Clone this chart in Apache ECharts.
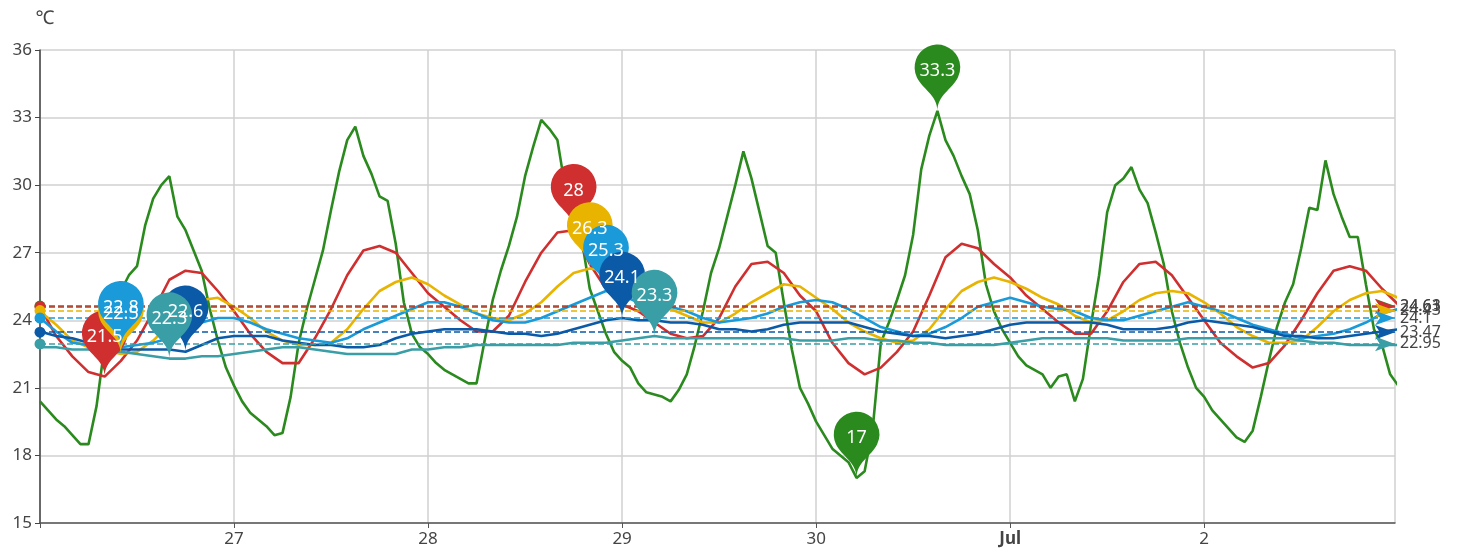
<!DOCTYPE html>
<html><head><meta charset="utf-8">
<script src="https://cdn.jsdelivr.net/npm/echarts@6/dist/echarts.min.js"></script>
<style>html,body{margin:0;padding:0;background:#fff}#c{width:1467px;height:555px}</style>
</head><body><div id="c"></div>
<script>
// time base: Jun 26, hourly / 2-hourly samples
const startTime = new Date(2024, 5, 26, 0, 0, 0).getTime();
const HOUR = 3600000;
const endHours = 167.6;
const monthNames = ['Jan', 'Feb', 'Mar', 'Apr', 'May', 'Jun', 'Jul', 'Aug', 'Sep', 'Oct', 'Nov', 'Dec'];

const seriesNames = ['Outdoor', 'Room A', 'Room B', 'Room C', 'Room D', 'Room E'];
const seriesColors = ['#2b8a1e', '#cf2f2f', '#e8b400', '#1a9ad8', '#0b5aa8', '#3a9ea7'];

// green series, one value per hour
const greenValues = [
  20.4, 20.0, 19.6, 19.3, 18.9, 18.5, 18.5, 20.2, 22.9, 24.2, 25.3, 26.0, 26.4, 28.2, 29.4, 30.0, 30.4, 28.6, 28.0, 27.1, 26.2, 24.5, 23.1, 21.9,
  21.1, 20.4, 19.9, 19.6, 19.3, 18.9, 19.0, 20.6, 23.0, 24.5, 25.8, 27.1, 28.9, 30.6, 32.0, 32.6, 31.3, 30.5, 29.5, 29.3, 27.4, 24.8, 23.4, 22.8,
  22.5, 22.1, 21.8, 21.6, 21.4, 21.2, 21.2, 23.1, 24.9, 26.2, 27.3, 28.6, 30.4, 31.7, 32.9, 32.5, 32.0, 29.8, 28.5, 27.6, 25.4, 24.4, 23.4, 22.6,
  22.2, 21.9, 21.2, 20.8, 20.7, 20.6, 20.4, 20.9, 21.6, 22.9, 24.4, 26.1, 27.2, 28.6, 30.0, 31.5, 30.3, 28.8, 27.3, 27.0, 24.8, 22.7, 21.0, 20.3,
  19.5, 18.9, 18.3, 18.0, 17.7, 17.0, 17.3, 19.2, 23.0, 23.9, 24.9, 26.0, 27.8, 30.7, 32.2, 33.3, 32.0, 31.3, 30.4, 29.6, 28.0, 25.6, 24.4, 23.6,
  23.0, 22.4, 22.0, 21.8, 21.6, 21.0, 21.5, 21.6, 20.4, 21.4, 23.8, 26.0, 28.8, 30.0, 30.3, 30.8, 29.8, 29.2, 27.9, 26.5, 24.4, 23.0, 21.9, 21.0,
  20.6, 20.0, 19.6, 19.2, 18.8, 18.6, 19.1, 20.6, 22.2, 23.7, 24.8, 25.6, 27.2, 29.0, 28.9, 31.1, 29.6, 28.6, 27.7, 27.7, 25.6, 23.6, 22.9, 21.6,
  21.1
];
// other series, one value every 2 hours
const redValues = [
  24.6, 23.3, 22.4, 21.7, 21.5, 22.2, 23.1, 24.4, 25.8, 26.2, 26.1, 25.3,
  24.4, 23.4, 22.6, 22.1, 22.1, 23.2, 24.5, 26.0, 27.1, 27.3, 27.0, 26.1,
  25.2, 24.6, 24.0, 23.5, 23.5, 24.2, 25.7, 27.0, 27.9, 28.0, 26.5, 25.4,
  24.7, 24.4, 23.9, 23.4, 23.2, 23.3, 24.1, 25.5, 26.5, 26.6, 26.1, 25.1,
  24.4, 23.0, 22.1, 21.6, 21.9, 22.6, 23.5, 25.1, 26.8, 27.4, 27.2, 26.5,
  25.9, 25.1, 24.5, 23.9, 23.4, 23.4, 24.4, 25.7, 26.5, 26.6, 26.0, 25.0,
  24.0, 23.0, 22.4, 21.9, 22.1, 22.9, 24.0, 25.2, 26.2, 26.4, 26.2, 25.4,
  24.7
];
const yellowValues = [
  24.4, 23.8, 23.1, 22.8, 22.7, 22.5, 22.6, 23.1, 23.8, 24.4, 24.9, 25.0,
  24.6, 24.1, 23.5, 23.1, 22.9, 22.9, 23.0, 23.6, 24.5, 25.3, 25.7, 25.9,
  25.6, 25.1, 24.7, 24.3, 24.1, 24.0, 24.3, 24.8, 25.5, 26.1, 26.3, 26.2,
  25.5, 25.0, 24.8, 24.5, 24.2, 23.9, 23.9, 24.3, 24.8, 25.2, 25.6, 25.5,
  25.0, 24.5, 23.9, 23.5, 23.2, 23.0, 23.1, 23.6, 24.5, 25.3, 25.7, 25.9,
  25.7, 25.4, 25.0, 24.7, 24.2, 23.9, 24.0, 24.4, 24.9, 25.2, 25.3, 25.2,
  24.8, 24.3, 23.7, 23.3, 23.0, 23.0, 23.1, 23.7, 24.4, 24.9, 25.2, 25.3,
  25.0
];
const lightBlueValues = [
  24.1, 23.5, 23.0, 22.9, 22.9, 22.8, 22.9, 23.0, 23.2, 23.6, 23.9, 24.1,
  24.1, 23.9, 23.6, 23.4, 23.2, 23.1, 23.0, 23.2, 23.6, 23.9, 24.2, 24.5,
  24.8, 24.8, 24.6, 24.3, 24.0, 23.9, 23.9, 24.1, 24.4, 24.7, 25.0, 25.3,
  25.1, 24.8, 24.6, 24.6, 24.4, 24.1, 23.9, 24.0, 24.1, 24.3, 24.6, 24.8,
  24.9, 24.8, 24.5, 24.1, 23.7, 23.5, 23.3, 23.4, 23.7, 24.1, 24.6, 24.8,
  25.0, 24.8, 24.6, 24.5, 24.4, 24.1, 24.0, 24.0, 24.2, 24.4, 24.6, 24.8,
  24.6, 24.4, 24.1, 23.8, 23.6, 23.4, 23.2, 23.3, 23.4, 23.6, 23.9, 24.3,
  24.5
];
const darkBlueValues = [
  23.5, 23.3, 23.2, 23.0, 22.8, 22.7, 22.7, 22.7, 22.7, 22.6, 22.9, 23.2,
  23.3, 23.3, 23.3, 23.1, 23.0, 22.9, 22.9, 22.8, 22.8, 22.9, 23.2, 23.4,
  23.5, 23.6, 23.6, 23.6, 23.5, 23.4, 23.4, 23.3, 23.4, 23.6, 23.8, 24.0,
  24.1, 24.0, 24.0, 23.9, 23.9, 23.8, 23.6, 23.6, 23.5, 23.6, 23.8, 23.9,
  23.9, 23.9, 23.9, 23.7, 23.5, 23.4, 23.3, 23.3, 23.2, 23.3, 23.4, 23.6,
  23.8, 23.9, 23.9, 23.9, 23.9, 23.9, 23.8, 23.6, 23.6, 23.6, 23.7, 23.9,
  24.0, 23.9, 23.8, 23.7, 23.5, 23.3, 23.3, 23.2, 23.2, 23.3, 23.4, 23.5,
  23.6
];
const tealValues = [
  22.8, 22.8, 22.7, 22.7, 22.6, 22.6, 22.5, 22.4, 22.3, 22.3, 22.4, 22.4,
  22.5, 22.6, 22.7, 22.8, 22.8, 22.7, 22.6, 22.5, 22.5, 22.5, 22.5, 22.7,
  22.7, 22.8, 22.8, 22.9, 22.9, 22.9, 22.9, 22.9, 22.9, 23.0, 23.0, 23.0,
  23.1, 23.2, 23.3, 23.2, 23.2, 23.2, 23.2, 23.2, 23.2, 23.2, 23.2, 23.1,
  23.1, 23.1, 23.2, 23.2, 23.1, 23.1, 23.0, 23.0, 22.9, 22.9, 22.9, 22.9,
  23.0, 23.1, 23.2, 23.2, 23.2, 23.2, 23.2, 23.1, 23.1, 23.1, 23.1, 23.2,
  23.2, 23.2, 23.2, 23.2, 23.2, 23.2, 23.1, 23.0, 23.0, 22.9, 22.9, 22.9,
  22.9
];
// average lines (as labelled)
const averageValues = [24.63, 24.61, 24.43, 24.1, 23.47, 22.95];
const yTicks = { min: 15, max: 36, interval: 3 };

const allValues = [greenValues, redValues, yellowValues, lightBlueValues, darkBlueValues, tealValues];
const stepHours = [1, 2, 2, 2, 2, 2];
const FONT = 'Noto Sans';

const series = allValues.map((vals, k) => {
  const color = seriesColors[k];
  return {
    name: seriesNames[k],
    type: 'line',
    showSymbol: false,
    symbol: 'none',
    clip: true,
    data: vals.map((v, i) => [startTime + i * stepHours[k] * HOUR, v]),
    lineStyle: { width: 2.6, color: color },
    itemStyle: { color: color },
    markPoint: {
      symbol: 'pin',
      symbolSize: 76,
      data: [{ type: 'max' }, { type: 'min' }],
      itemStyle: { color: color },
      label: { color: '#fff', fontSize: 18, fontFamily: FONT }
    },
    markLine: {
      silent: true,
      symbol: ['circle', 'arrow'],
      symbolSize: [11, 20],
      data: [{ yAxis: averageValues[k] }],
      lineStyle: { type: 'dashed', width: 1.5, color: color },
      label: { color: '#444', fontSize: 16, fontFamily: FONT }
    }
  };
});

const xMin = startTime;
const chart = echarts.init(document.getElementById('c'));
chart.setOption({
  animation: false,
  textStyle: { fontFamily: FONT },
  grid: { left: 40, right: 72, top: 50, bottom: 32, containLabel: false },
  xAxis: {
    type: 'time',
    min: xMin,
    max: startTime + endHours * HOUR,
    axisLine: { show: true, lineStyle: { color: '#555', width: 1.5 } },
    axisTick: { show: true, lineStyle: { color: '#555' } },
    axisLabel: {
      color: '#444', fontSize: 17, fontFamily: FONT,
      formatter: function (value) {
        if (value <= xMin) return '';
        const d = new Date(value);
        if (d.getDate() === 1) return '{b|' + monthNames[d.getMonth()] + '}';
        return String(d.getDate());
      },
      rich: { b: { fontWeight: 'bold', color: '#444', fontSize: 17, fontFamily: FONT } }
    },
    splitLine: { show: true, lineStyle: { color: '#d0d0d0', width: 1.5 } }
  },
  yAxis: {
    type: 'value',
    min: yTicks.min,
    max: yTicks.max,
    interval: yTicks.interval,
    name: '℃',
    nameGap: 22,
    nameTextStyle: { color: '#444', fontSize: 19, fontFamily: FONT, padding: [0, 0, 0, 10] },
    axisLine: { show: true, lineStyle: { color: '#444', width: 1.5 } },
    axisTick: { show: true, lineStyle: { color: '#444' } },
    axisLabel: { color: '#444', fontSize: 17, fontFamily: FONT },
    splitLine: { show: true, lineStyle: { color: '#d0d0d0', width: 1.5 } }
  },
  series: series
});
</script>
</body></html>
